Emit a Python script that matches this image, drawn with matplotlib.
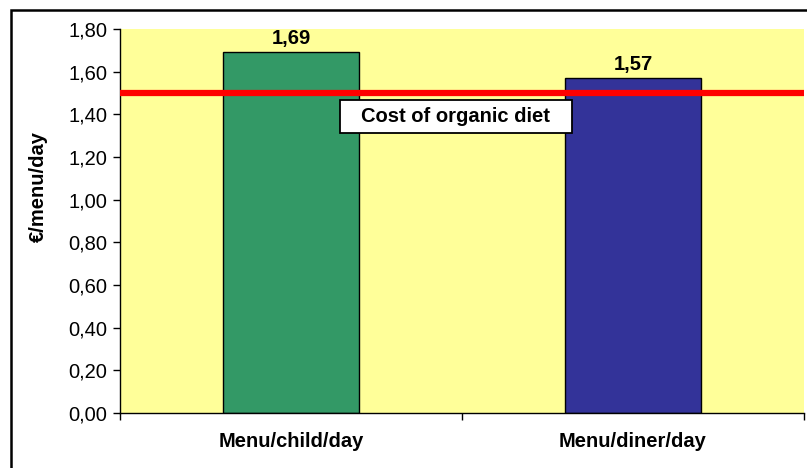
import matplotlib.pyplot as plt
from matplotlib.patches import Rectangle
from matplotlib.ticker import FuncFormatter

categories = ['Menu/child/day', 'Menu/diner/day']
costs = [1.69, 1.57]
bar_colors = ['#339966', '#333399']
organic_cost = 1.50
organic_label = 'Cost of organic diet'

plt.rcParams['font.family'] = ['Liberation Sans', 'DejaVu Sans']

fig = plt.figure(figsize=(8.07, 4.68), dpi=100)
fig.patch.set_facecolor('white')

# chart border, cut off on the right and bottom
fig.patches.append(Rectangle((11 / 807, -0.1), 1.2, (468 - 10) / 468 + 0.1,
                             transform=fig.transFigure, fill=False,
                             edgecolor='black', linewidth=1.8, zorder=0))

ax = fig.add_axes([120 / 807, 55 / 468, 684 / 807, 384 / 468])
ax.set_facecolor('#FFFF99')

x = list(range(len(categories)))
bars = ax.bar(x, costs, width=0.4, color=bar_colors, edgecolor='black',
              linewidth=1, zorder=2)

for xi, v in zip(x, costs):
    ax.annotate(f'{v:.2f}'.replace('.', ','), (xi, v), xytext=(0, 3),
                textcoords='offset points', ha='center', va='bottom',
                fontsize=14.5, fontweight='bold')

ax.axhline(organic_cost, color='#FF0000', linewidth=4.5, zorder=3)

# label box for the organic diet line
ax.add_patch(Rectangle((0.3216, 0.729), 0.3394, 0.086, transform=ax.transAxes,
                       facecolor='white', edgecolor='black', linewidth=1.3,
                       zorder=4))
ax.text(0.491, 0.771, organic_label, transform=ax.transAxes,
        ha='center', va='center', fontsize=14.5, fontweight='bold', zorder=5)

ax.set_xlim(-0.5, 1.5)
ax.set_ylim(0, 1.8)
ax.set_yticks([i * 0.2 for i in range(10)])
ax.yaxis.set_major_formatter(FuncFormatter(lambda v, p: f'{v:.2f}'.replace('.', ',')))
ax.set_xticks([-0.5, 0.5, 1.5])
ax.set_xticklabels([])
ax.set_xticks(x, minor=True)
ax.set_xticklabels(categories, minor=True, fontsize=14.5, fontweight='bold')
ax.tick_params(axis='x', which='minor', length=0, pad=14)
ax.tick_params(axis='x', which='major', direction='out', length=5, width=1)
ax.tick_params(axis='y', direction='out', length=5, width=1, labelsize=14.5, pad=4)

for side in ['top', 'right']:
    ax.spines[side].set_visible(False)
ax.spines['left'].set_linewidth(1)
ax.spines['bottom'].set_linewidth(1)

ax.set_ylabel('€/menu/day', fontsize=14.5, fontweight='bold')
ax.yaxis.set_label_coords(-0.105, 0.589)

fig.savefig('out.png', dpi=100)
